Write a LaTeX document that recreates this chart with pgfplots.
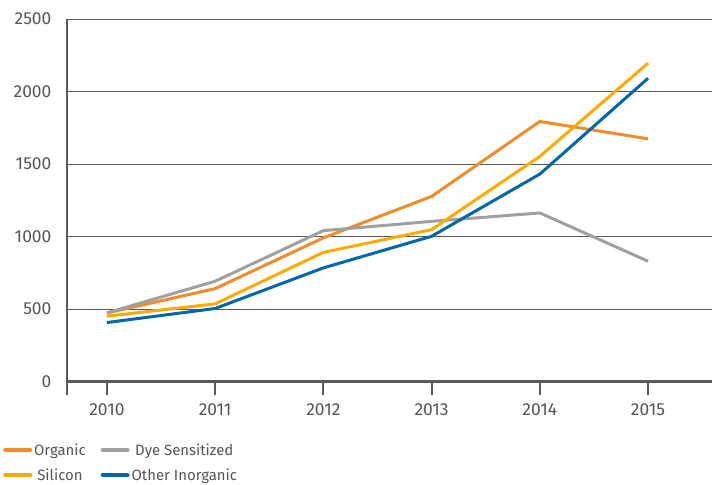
\documentclass[border=0pt]{standalone}
\usepackage{pgfplots}
\pgfplotsset{compat=1.18}
\usepackage{fontspec}
\setmainfont{Fira Sans}
\definecolor{cOrg}{RGB}{242,140,40}
\definecolor{cDye}{RGB}{160,160,162}
\definecolor{cSil}{RGB}{255,170,0}
\definecolor{cInorg}{RGB}{0,104,168}
\definecolor{txt}{RGB}{85,85,85}
\definecolor{ax}{RGB}{90,90,90}
\begin{document}
\begin{tikzpicture}
\begin{axis}[
  scale only axis,
  width=646bp, height=363bp,
  xmin=2009.63, xmax=2015.59,
  ymin=0, ymax=2500,
  axis x line*=bottom,
  axis y line*=left,
  x axis line style={draw=ax, line width=2.2pt, -},
  y axis line style={draw=ax, line width=2.2pt, -},
  xtick={2010,2011,2012,2013,2014,2015},
  xticklabels={2010,2011,2012,2013,2014,2015},
  extra x ticks={2009.63},
  extra x tick labels={},
  extra x tick style={major tick length=14bp, x tick style={line width=2.2pt}},
  ytick={0,500,1000,1500,2000,2500},
  yticklabels={0,500,1000,1500,2000,2500},
  tick align=outside,
  major tick length=14bp,
  x tick style={draw=ax, line width=1.8pt},
  y tick style={draw=none},
  ymajorgrids,
  grid style={draw=ax, line width=0.7pt},
  tick label style={font=\fontsize{17.5}{19}\selectfont, text=txt},
  yticklabel style={xshift=2bp},
  xticklabel style={yshift=-5bp},
  legend columns=2,
  legend style={at={(-0.099,-0.165)}, anchor=north west, draw=none, fill=none,
    font=\fontsize{15}{17}\selectfont, text=txt,
    /tikz/every even column/.append style={column sep=13bp},
    row sep=8bp, inner sep=0pt},
  legend image code/.code={\draw[#1, line width=4pt, line cap=round] (0bp,0bp) -- (25bp,0bp);},
  every axis plot/.append style={line width=3pt, line join=round},
]
\addplot[cOrg] coordinates {(2010,472) (2011,640) (2012,990) (2013,1276) (2014,1793) (2015,1673)};
\addlegendentry{Organic}
\addplot[cDye] coordinates {(2010,473) (2011,691) (2012,1040) (2013,1104) (2014,1162) (2015,829)};
\addlegendentry{Dye Sensitized}
\addplot[cSil] coordinates {(2010,450) (2011,535) (2012,890) (2013,1047) (2014,1552) (2015,2195)};
\addlegendentry{Silicon}
\addplot[cInorg] coordinates {(2010,406) (2011,503) (2012,783) (2013,1001) (2014,1430) (2015,2091)};
\addlegendentry{Other Inorganic}
\end{axis}
\useasboundingbox (-67bp,-103bp) rectangle (646bp,382bp);
\end{tikzpicture}
\end{document}
